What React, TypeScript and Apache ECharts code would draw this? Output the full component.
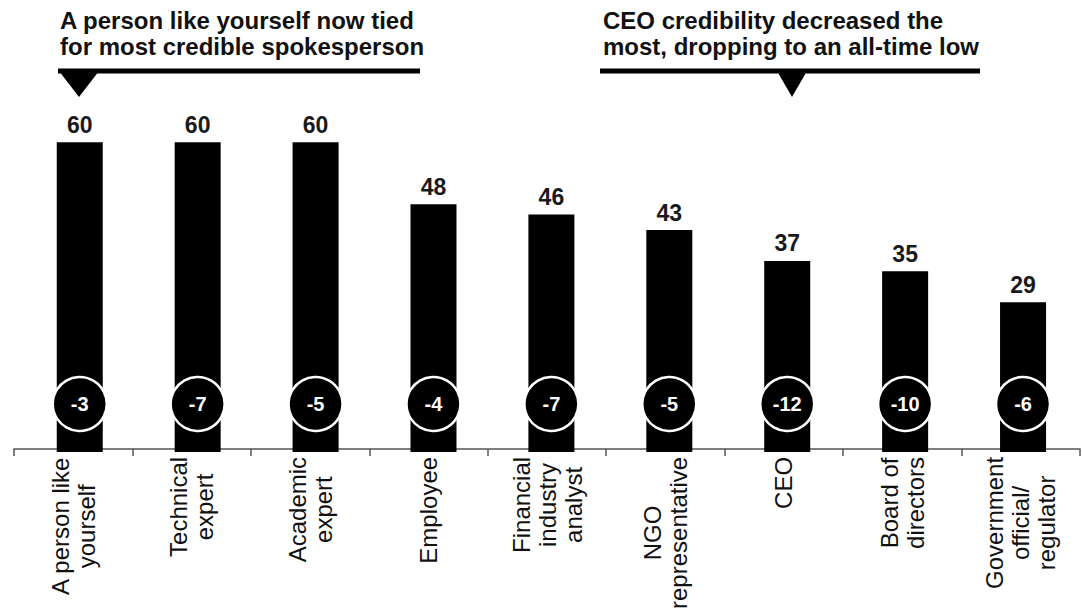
import React, { useEffect, useRef } from "react";
import * as echarts from "echarts";

const categories: string[] = [
  "A person like\nyourself",
  "Technical\nexpert",
  "Academic\nexpert",
  "Employee",
  "Financial\nindustry\nanalyst",
  "NGO\nrepresentative",
  "CEO",
  "Board of\ndirectors",
  "Government\nofficial/\nregulator",
];
const credibility: number[] = [60, 60, 60, 48, 46, 43, 37, 35, 29];
const changes: number[] = [-3, -7, -5, -4, -7, -5, -12, -10, -6];
const leftNote = "A person like yourself now tied\nfor most credible spokesperson";
const rightNote = "CEO credibility decreased the\nmost, dropping to an all-time low";

const FONT = '"Liberation Sans", Arial, Helvetica, sans-serif';
const CIRCLE_Y = 9.3;

export default function App() {
  const ref = useRef<HTMLDivElement>(null);
  useEffect(() => {
    if (!ref.current) return;
    const chart = echarts.init(ref.current, null, { renderer: "svg" });
    const scatterData = changes.map((c, i) => [i, CIRCLE_Y, c]);
    chart.setOption({
      animation: false,
      backgroundColor: "#ffffff",
      textStyle: { fontFamily: FONT },
      grid: [
        { left: 20.8, width: 1066, top: 39, bottom: 160 },
        { left: 14, width: 1066, top: 39, bottom: 160 },
      ],
      xAxis: [
        {
          type: "category",
          gridIndex: 0,
          data: categories,
          axisLine: { show: false },
          axisTick: { show: false },
          axisLabel: { show: false },
        },
        {
          type: "category",
          gridIndex: 1,
          data: categories,
          axisLine: { show: true, lineStyle: { color: "#555", width: 1.5 } },
          axisTick: { show: true, length: 7, lineStyle: { color: "#555", width: 1.5 } },
          axisLabel: {
            interval: 0,
            rotate: 90,
            margin: 8,
            color: "#111",
            fontFamily: FONT,
            fontSize: 24,
            lineHeight: 26,
            formatter: (v: string) =>
              v
                .split("\n")
                .map((l) => `{c|${l}}`)
                .join("\n"),
            rich: {
              c: {
                align: "center",
                fontFamily: FONT,
                fontSize: 24,
                lineHeight: 26,
                color: "#111",
              },
            },
          },
        },
      ],
      yAxis: [
        { type: "value", gridIndex: 0, min: 0, max: 80, show: false },
        { type: "value", gridIndex: 1, min: 0, max: 80, show: false },
      ],
      series: [
        {
          type: "bar",
          xAxisIndex: 0,
          yAxisIndex: 0,
          data: credibility,
          barWidth: 46,
          itemStyle: { color: "#000" },
          label: {
            show: true,
            position: "top",
            distance: 6,
            color: "#1a1a1a",
            fontFamily: FONT,
            fontWeight: "bold",
            fontSize: 23,
          },
        },
        {
          type: "scatter",
          xAxisIndex: 0,
          yAxisIndex: 0,
          data: scatterData,
          symbol: "circle",
          symbolSize: 54,
          itemStyle: { color: "#000", borderColor: "#fff", borderWidth: 2.5, opacity: 1 },
          label: {
            show: true,
            position: "inside",
            formatter: (p: any) => String(p.data[2]),
            color: "#fff",
            fontFamily: FONT,
            fontWeight: "bold",
            fontSize: 20,
          },
          z: 5,
        },
      ],
      graphic: [
        {
          type: "text",
          x: 60,
          y: 7,
          style: {
            text: leftNote,
            font: `bold 24px ${FONT}`,
            lineHeight: 26,
            fill: "#111",
            textAlign: "left",
            textVerticalAlign: "top",
          },
        },
        {
          type: "rect",
          shape: { x: 58, y: 68.5, width: 362, height: 5 },
          style: { fill: "#000" },
        },
        {
          type: "polygon",
          shape: { points: [[59, 71], [99, 71], [79, 97]] },
          style: { fill: "#000" },
        },
        {
          type: "text",
          x: 603,
          y: 7,
          style: {
            text: rightNote,
            font: `bold 24px ${FONT}`,
            lineHeight: 26,
            fill: "#111",
            textAlign: "left",
            textVerticalAlign: "top",
          },
        },
        {
          type: "rect",
          shape: { x: 600, y: 68.5, width: 380, height: 5 },
          style: { fill: "#000" },
        },
        {
          type: "polygon",
          shape: { points: [[777, 71], [807, 71], [792, 97]] },
          style: { fill: "#000" },
        },
      ],
    });
    return () => chart.dispose();
  }, []);
  return (
    <div
      ref={ref}
      style={{ position: "fixed", left: 0, top: 0, width: 1082, height: 612 }}
    />
  );
}
